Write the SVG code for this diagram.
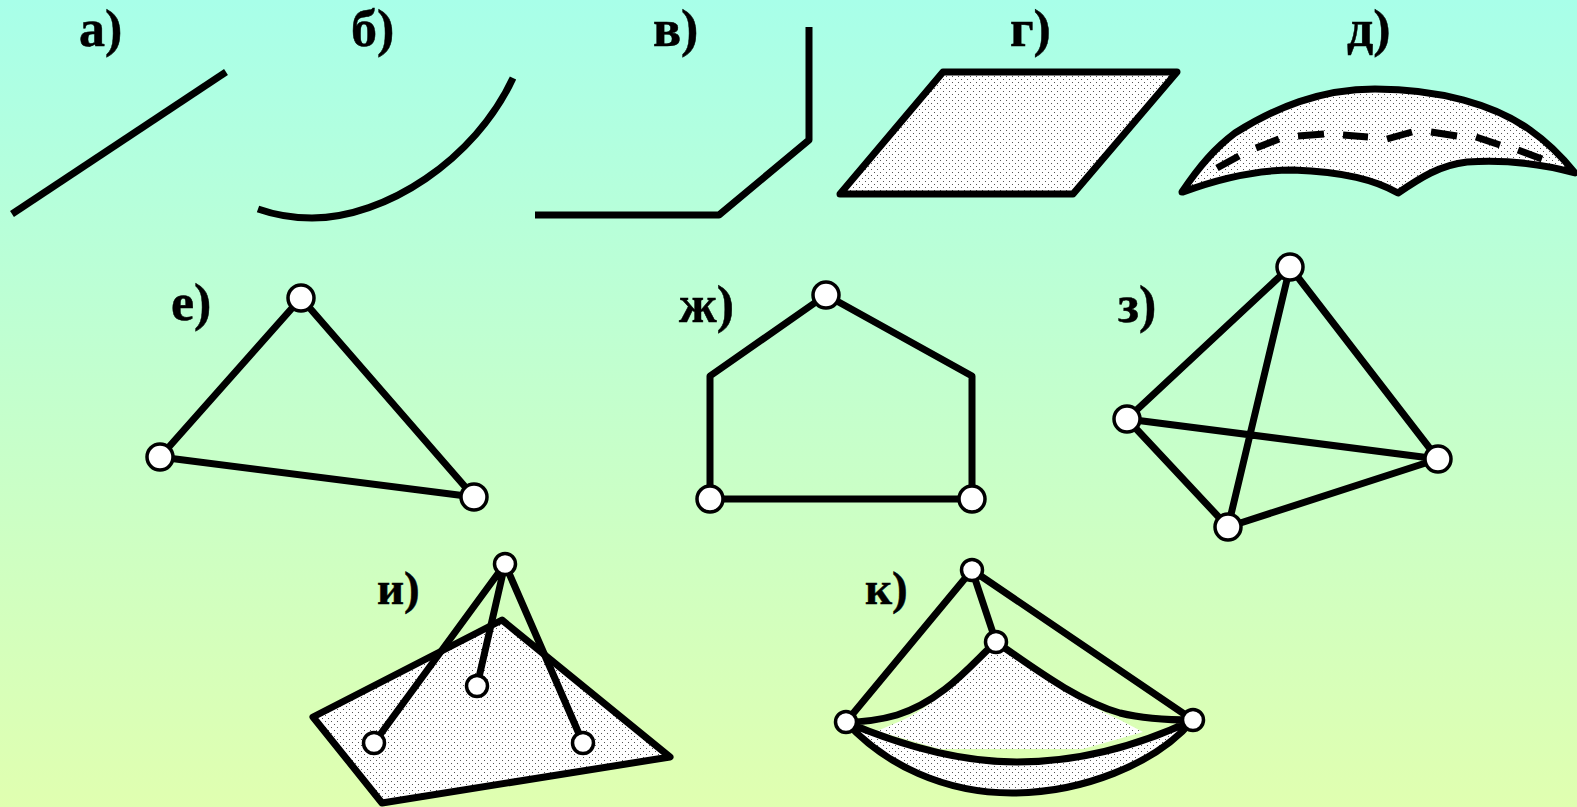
<svg xmlns="http://www.w3.org/2000/svg" width="1577" height="807" viewBox="0 0 1577 807">
<style>
text{font-family:"Liberation Serif","Times New Roman",serif;font-weight:bold;font-size:52px;fill:#000;stroke:#000;stroke-width:.5}
.s{font-size:47px}
.l{fill:none;stroke:#000;stroke-width:7;stroke-linejoin:round;stroke-linecap:butt}
.f{fill:url(#dots);stroke:#000;stroke-width:7;stroke-linejoin:round}
.n{fill:url(#dots);stroke:none}
.v{fill:#fff;stroke:#000;stroke-width:3.5}
.d{fill:none;stroke:#000;stroke-width:7}
</style>
<defs>
<linearGradient id="bg" x1="0" y1="0" x2="0" y2="1"><stop offset="0" stop-color="#A8FFE9"/><stop offset="1" stop-color="#E0FFB0"/></linearGradient>
<pattern id="dots" width="6" height="6" patternUnits="userSpaceOnUse"><rect width="6" height="6" fill="#fff"/><rect x="1" y="1" width="1" height="1" fill="#555"/><rect x="4" y="4" width="1" height="1" fill="#555"/></pattern>
</defs>
<rect width="1577" height="807" fill="url(#bg)"/>
<g id="fig-a"><text x="79" y="46">а)</text><path class="l" d="M12,214L226,72"/></g>
<g id="fig-b"><text x="351" y="46">б)</text><path class="l" d="M258,209C275,215 293,218 312,218C385,218 475,160 513,78"/></g>
<g id="fig-v"><text x="653" y="46">в)</text><path class="l" d="M535,215H719L809,140V27"/></g>
<g id="fig-g"><text x="1010" y="46">г)</text><path class="f" d="M943,72H1177L1073,194H840Z"/></g>
<g id="fig-d"><text x="1347" y="46">д)</text>
<path class="f" d="M1182,192C1200,165 1215,148 1235,133C1275,108 1320,89 1375,89C1440,89 1495,105 1530,130C1550,144 1563,158 1575,173C1540,163 1500,160 1467,162C1440,165 1420,178 1398,193C1375,180 1345,172 1293,170C1255,170 1215,180 1183,192Z"/>
<path class="d" d="M1217,168L1239,156M1256,148L1279,139M1298,136L1324,134M1343,135L1368,137M1387,139L1412,132M1431,132L1457,136M1476,137L1500,145M1518,150L1542,159"/></g>
<g id="fig-e"><text x="171" y="320">е)</text><path class="l" d="M301,298L160,457L474,497Z"/><circle class="v" cx="301" cy="298" r="13"/><circle class="v" cx="160" cy="457" r="13"/><circle class="v" cx="474" cy="497" r="13"/></g>
<g id="fig-zh"><text x="679" y="322">ж)</text><path class="l" d="M826,295L710,376V499H972V376Z"/><circle class="v" cx="826" cy="295" r="13"/><circle class="v" cx="710" cy="499" r="13"/><circle class="v" cx="972" cy="499" r="13"/></g>
<g id="fig-z"><text x="1118" y="322">з)</text><path class="l" d="M1290,267L1127,419L1228,527L1438,459L1290,267L1228,527M1127,419L1438,459"/><circle class="v" cx="1290" cy="267" r="13"/><circle class="v" cx="1127" cy="419" r="13"/><circle class="v" cx="1438" cy="459" r="13"/><circle class="v" cx="1228" cy="527" r="13"/></g>
<g id="fig-i"><text class="s" x="377" y="604">и)</text><path class="f" d="M313,717L502,620L670,757L382,803Z"/><path class="l" d="M505,564L374,743M505,564L477,686M505,564L583,743"/><circle class="v" cx="505" cy="564" r="10.5"/><circle class="v" cx="477" cy="686" r="10.5"/><circle class="v" cx="374" cy="743" r="10.5"/><circle class="v" cx="583" cy="743" r="10.5"/></g>
<g id="fig-k"><text class="s" x="865" y="604">к)</text>
<path class="n" d="M996,642C975,660 945,700 903,720L877,731L940,749H1083L1143,732L1120,720C1075,700 1030,665 996,642Z"/>
<path class="n" d="M846,722C900,745 960,762 1017,762C1080,762 1140,745 1193,720C1155,765 1080,793 1012,793C945,793 885,765 846,722Z"/>
<path class="l" d="M996,642C975,660 945,700 897,715C880,720 860,722 846,722M996,642C1030,665 1075,700 1120,713C1140,718 1170,720 1193,720M846,722C900,745 960,762 1017,762C1080,762 1140,745 1193,720M846,722C885,765 945,793 1012,793C1080,793 1155,765 1193,720"/>
<path class="l" d="M972,570L846,722M972,570L996,642M972,570L1193,720"/>
<circle class="v" cx="972" cy="570" r="10.5"/><circle class="v" cx="996" cy="642" r="10.5"/><circle class="v" cx="846" cy="722" r="10.5"/><circle class="v" cx="1193" cy="720" r="10.5"/></g>
</svg>
